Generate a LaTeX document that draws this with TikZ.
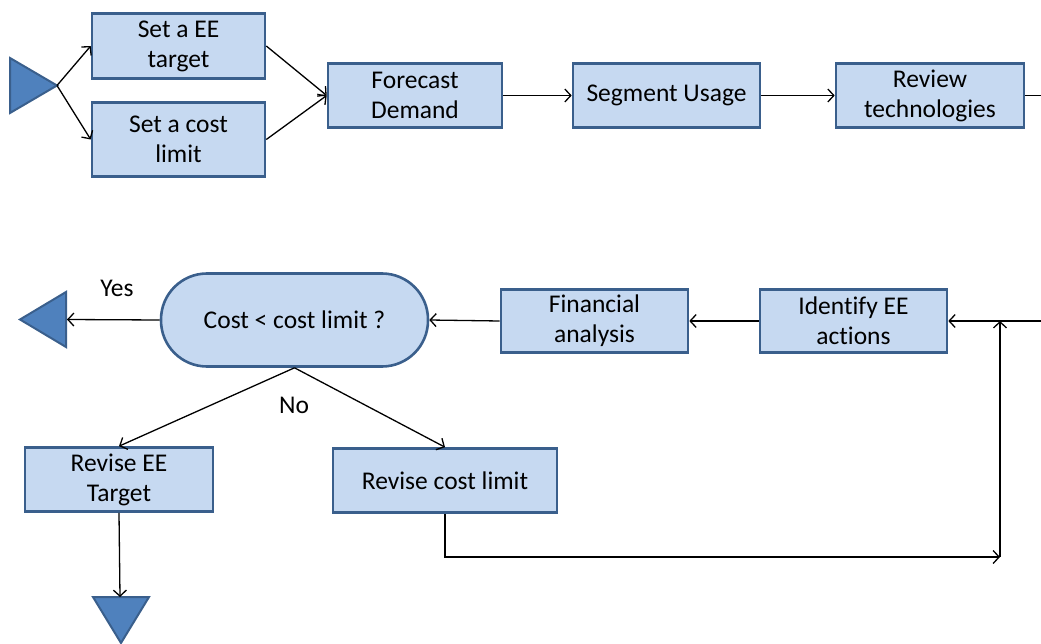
\documentclass[tikz,border=0pt]{standalone}
\usepackage{fontspec}
\setmainfont{Carlito}[Ligatures=NoCommon]
\usetikzlibrary{arrows.meta}
\definecolor{boxfill}{HTML}{C6D9F1}
\definecolor{boxline}{HTML}{3A5F8C}
\definecolor{trifill}{HTML}{4F81BD}
\begin{document}
\begin{tikzpicture}[x=1pt,y=-1pt,
  stepbox/.style={draw=boxline, fill=boxfill, line width=2.6pt, align=center,
    inner sep=0pt, font=\fontsize{25.5}{30}\selectfont},
  decision/.style={stepbox, rounded corners=46pt},
  conn/.style={line width=1.3pt, black},
  arr/.style={conn, -{Straight Barb[length=6pt,width=13pt,line width=1.3pt]}},
  terminal/.style={draw=boxline, fill=trifill, line width=2pt, line join=miter},
  lbl/.style={font=\fontsize{25.5}{30}\selectfont, inner sep=0pt}]
\useasboundingbox (0,0) rectangle (1041,644);

% process boxes
\node[stepbox, minimum width=173pt, minimum height=65pt] (ee) at (178.5,46) {Set a EE\\target};
\node[stepbox, minimum width=173pt, minimum height=74pt] (cl) at (178.5,139.5) {Set a cost\\limit};
\node[stepbox, minimum width=174pt, minimum height=64pt] (fd) at (415,95.5) {Forecast\\Demand};
\node[stepbox, minimum width=187pt, minimum height=64pt] (su) at (666.5,95.5) {Segment Usage};
\node[stepbox, minimum width=188pt, minimum height=64pt] (rt) at (930,95.5) {Review\\technologies};
\node[decision, minimum width=267pt, minimum height=93pt] (dec) at (294.5,320) {Cost < cost limit ?};
\node[stepbox, minimum width=187pt, minimum height=63pt] (fa) at (594.5,321) {Financial\\analysis};
\node[stepbox, minimum width=187pt, minimum height=63pt] (ia) at (853.5,321) {Identify EE\\actions};
\node[stepbox, minimum width=188pt, minimum height=64pt] (rvT) at (119,479.5) {Revise EE\\Target};
\node[stepbox, minimum width=224pt, minimum height=64pt] (rvC) at (445,480.5) {Revise cost limit};

% terminals
\draw[terminal] (10,58) -- (57,85.5) -- (10,113) -- cycle;
\draw[terminal] (66,292) -- (20,319.5) -- (66,347) -- cycle;
\draw[terminal] (93,597) -- (149,597) -- (121,643) -- cycle;
\coordinate (startTip) at (57,85.5);
\coordinate (yesEnd) at (67,319.5);
\coordinate (downEnd) at (120,597);
\coordinate (rtOut) at (1041,95.5);
\coordinate (iaIn) at (1041,321);
\coordinate (loopCorner) at (1000,557);
\coordinate (loopTop) at (1000,321);

% labels
\node[lbl] (yes) at (117,288) {Yes};
\node[lbl] (no) at (294,405) {No};

% connectors
\draw[arr] (startTip) -- (ee.west);
\draw[arr] (startTip) -- (cl.west);
\draw[arr] (ee.east) -- (fd.west);
\draw[arr] (cl.east) -- (fd.west);
\draw[arr] (fd.east) -- (su.west);
\draw[arr] (su.east) -- (rt.west);
\draw[conn] (rt.east) -- (rtOut);
\draw[arr] (iaIn) -- (ia.east);
\draw[arr] (ia.west) -- (fa.east);
\draw[arr] (fa.west) -- (dec.east);
\draw[arr] (dec.west) -- (yesEnd);
\draw[arr] (dec.south) -- (rvT.north);
\draw[arr] (dec.south) -- (rvC.north);
\draw[arr] (rvT.south) -- (downEnd);
\draw[arr] (rvC.south) |- (loopCorner);
\draw[arr] (loopCorner) -- (loopTop);
\end{tikzpicture}
\end{document}
